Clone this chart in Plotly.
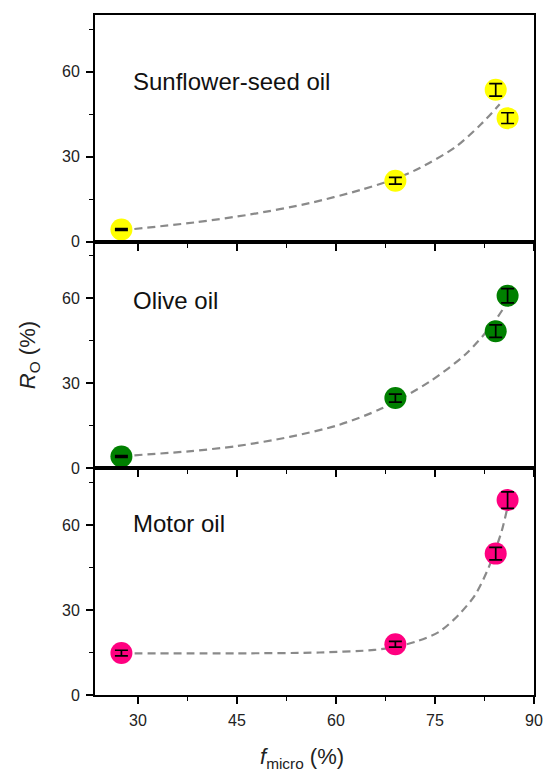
import plotly.graph_objects as go
from plotly.subplots import make_subplots

# ---- data ----
panels = ["Sunflower-seed oil", "Olive oil", "Motor oil"]
colors = ["#FFFF00", "#008000", "#FF0080"]

f_micro = [27.5, 69.0, 84.2, 86.0]

ro_sunflower = [4.3, 21.5, 53.6, 43.6]
err_sunflower = [0.3, 1.2, 2.2, 1.9]

ro_olive = [4.2, 24.8, 48.4, 60.9]
err_olive = [0.3, 1.4, 2.2, 2.5]

ro_motor = [14.8, 17.9, 49.9, 68.8]
err_motor = [1.0, 1.0, 2.2, 2.9]

# fitted (dashed) curves
fit_x_sunflower = [27.5, 38.6, 47.0, 56.0, 63.8, 69.0, 72.7, 78.1, 82.0, 84.8]
fit_y_sunflower = [4.0, 6.8, 9.6, 13.6, 18.3, 22.2, 26.0, 33.4, 41.5, 48.5]

fit_x_olive = [27.5, 37.7, 45.1, 53.0, 60.4, 66.8, 74.2, 79.6, 83.6, 85.8]
fit_y_olive = [4.3, 6.0, 7.9, 11.1, 15.3, 21.0, 30.6, 40.2, 50.5, 58.0]

fit_x_motor = [27.5, 45.0, 57.5, 65.8, 69.0, 72.2, 75.7, 78.6, 81.1, 83.1, 85.1, 86.0]
fit_y_motor = [14.7, 14.7, 15.0, 15.9, 17.0, 18.9, 22.4, 28.3, 35.4, 44.8, 57.8, 66.5]

x_ticks = [30, 45, 60, 75, 90]
y_ticks = [0, 30, 60]

ro_all = [ro_sunflower, ro_olive, ro_motor]
err_all = [err_sunflower, err_olive, err_motor]
fit_x_all = [fit_x_sunflower, fit_x_olive, fit_x_motor]
fit_y_all = [fit_y_sunflower, fit_y_olive, fit_y_motor]
label_y = [56.5, 59.4, 60.6]

FONT = "Liberation Sans, Arial, sans-serif"

fig = make_subplots(rows=3, cols=1, shared_xaxes=True, vertical_spacing=0)

for i in range(3):
    r = i + 1
    fig.add_trace(go.Scatter(
        x=fit_x_all[i], y=fit_y_all[i], mode="lines",
        line=dict(color="#8a8a8a", width=2.2, dash="8px,5px", shape="spline", smoothing=0.8),
        hoverinfo="skip", showlegend=False), row=r, col=1)
    fig.add_trace(go.Scatter(
        x=f_micro, y=ro_all[i], mode="markers",
        marker=dict(size=22, color=colors[i], line=dict(width=0)),
        showlegend=False), row=r, col=1)
    # error bars drawn above the markers
    fig.add_trace(go.Scatter(
        x=f_micro, y=ro_all[i], mode="markers",
        marker=dict(size=1, color="rgba(0,0,0,0)"),
        error_y=dict(type="data", array=err_all[i], color="black", thickness=1.7, width=6.5),
        hoverinfo="skip", showlegend=False), row=r, col=1)
    fig.add_annotation(x=29.0, y=label_y[i], xref=f"x{'' if r == 1 else r}",
                       yref=f"y{'' if r == 1 else r}", text=panels[i], showarrow=False,
                       xanchor="left", yanchor="middle",
                       font=dict(family=FONT, size=24, color="#111"))

for r in range(1, 4):
    fig.update_xaxes(
        range=[23.5, 90], tickvals=x_ticks, showticklabels=(r == 3),
        ticks="outside", ticklen=7, tickwidth=1.6, tickcolor="black",
        minor=dict(dtick=7.5, tick0=0, ticks="outside", ticklen=4, tickwidth=1.4, tickcolor="black"),
        showline=True, linecolor="black", linewidth=1.8, mirror=True,
        showgrid=False, zeroline=False, ticklabelstandoff=3,
        tickfont=dict(family=FONT, size=16, color="#222"),
        row=r, col=1)
    fig.update_yaxes(
        range=[0, 80], tickvals=y_ticks,
        ticks="outside", ticklen=7, tickwidth=1.6, tickcolor="black",
        minor=dict(dtick=15, tick0=0, ticks="outside", ticklen=4, tickwidth=1.4, tickcolor="black"),
        showline=True, linecolor="black", linewidth=1.8, mirror=True,
        showgrid=False, zeroline=False, ticklabelstandoff=3,
        tickfont=dict(family=FONT, size=16, color="#222"),
        row=r, col=1)

fig.add_annotation(x=-0.15, y=0.5, xref="paper", yref="paper", textangle=-90,
                   text="<i>R</i><sub>O</sub> (%)", showarrow=False,
                   xanchor="center", yanchor="middle",
                   font=dict(family=FONT, size=22, color="#222"))
fig.add_annotation(x=0.471, y=-0.093, xref="paper", yref="paper",
                   text="<i>f</i><sub>micro</sub> (%)", showarrow=False,
                   xanchor="center", yanchor="middle",
                   font=dict(family=FONT, size=22, color="#222"))

fig.update_layout(
    width=553, height=771,
    margin=dict(l=95, r=10, t=15, b=76),
    plot_bgcolor="white", paper_bgcolor="white",
    font=dict(family=FONT),
)

fig.write_html("out.html", config={"displayModeBar": False},
               post_script="document.body.style.margin='0px';")
